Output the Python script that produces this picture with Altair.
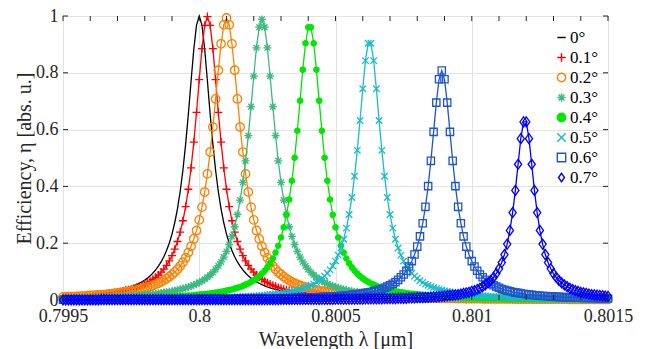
import altair as alt
import pandas as pd

# ---------------- data ----------------
wavelength_um = [
    0.79950, 0.79951, 0.79952, 0.79953, 0.79954, 0.79955, 0.79956, 0.79957, 0.79958, 0.79959,
    0.79960, 0.79961, 0.79962, 0.79963, 0.79964, 0.79965, 0.79966, 0.79967, 0.79968, 0.79969,
    0.79970, 0.79971, 0.79972, 0.79973, 0.79974, 0.79975, 0.79976, 0.79977, 0.79978, 0.79979,
    0.79980, 0.79981, 0.79982, 0.79983, 0.79984, 0.79985, 0.79986, 0.79987, 0.79988, 0.79989,
    0.79990, 0.79991, 0.79992, 0.79993, 0.79994, 0.79995, 0.79996, 0.79997, 0.79998, 0.79999,
    0.80000, 0.80001, 0.80002, 0.80003, 0.80004, 0.80005, 0.80006, 0.80007, 0.80008, 0.80009,
    0.80010, 0.80011, 0.80012, 0.80013, 0.80014, 0.80015, 0.80016, 0.80017, 0.80018, 0.80019,
    0.80020, 0.80021, 0.80022, 0.80023, 0.80024, 0.80025, 0.80026, 0.80027, 0.80028, 0.80029,
    0.80030, 0.80031, 0.80032, 0.80033, 0.80034, 0.80035, 0.80036, 0.80037, 0.80038, 0.80039,
    0.80040, 0.80041, 0.80042, 0.80043, 0.80044, 0.80045, 0.80046, 0.80047, 0.80048, 0.80049,
    0.80050, 0.80051, 0.80052, 0.80053, 0.80054, 0.80055, 0.80056, 0.80057, 0.80058, 0.80059,
    0.80060, 0.80061, 0.80062, 0.80063, 0.80064, 0.80065, 0.80066, 0.80067, 0.80068, 0.80069,
    0.80070, 0.80071, 0.80072, 0.80073, 0.80074, 0.80075, 0.80076, 0.80077, 0.80078, 0.80079,
    0.80080, 0.80081, 0.80082, 0.80083, 0.80084, 0.80085, 0.80086, 0.80087, 0.80088, 0.80089,
    0.80090, 0.80091, 0.80092, 0.80093, 0.80094, 0.80095, 0.80096, 0.80097, 0.80098, 0.80099,
    0.80100, 0.80101, 0.80102, 0.80103, 0.80104, 0.80105, 0.80106, 0.80107, 0.80108, 0.80109,
    0.80110, 0.80111, 0.80112, 0.80113, 0.80114, 0.80115, 0.80116, 0.80117, 0.80118, 0.80119,
    0.80120, 0.80121, 0.80122, 0.80123, 0.80124, 0.80125, 0.80126, 0.80127, 0.80128, 0.80129,
    0.80130, 0.80131, 0.80132, 0.80133, 0.80134, 0.80135, 0.80136, 0.80137, 0.80138, 0.80139,
    0.80140, 0.80141, 0.80142, 0.80143, 0.80144, 0.80145, 0.80146, 0.80147, 0.80148, 0.80149,
    0.80150,
]

eff_0deg = [
    0.012, 0.012, 0.013, 0.014, 0.014, 0.015, 0.015, 0.016, 0.017, 0.018,
    0.019, 0.020, 0.021, 0.022, 0.023, 0.024, 0.026, 0.027, 0.029, 0.031,
    0.033, 0.035, 0.037, 0.040, 0.043, 0.046, 0.050, 0.054, 0.059, 0.064,
    0.070, 0.077, 0.085, 0.095, 0.106, 0.119, 0.134, 0.152, 0.174, 0.200,
    0.232, 0.272, 0.321, 0.382, 0.457, 0.548, 0.654, 0.771, 0.883, 0.968,
    1.000, 0.968, 0.883, 0.771, 0.654, 0.548, 0.457, 0.382, 0.321, 0.272,
    0.232, 0.200, 0.174, 0.152, 0.134, 0.119, 0.106, 0.095, 0.085, 0.077,
    0.070, 0.064, 0.059, 0.054, 0.050, 0.046, 0.043, 0.040, 0.037, 0.035,
    0.033, 0.031, 0.029, 0.027, 0.026, 0.024, 0.023, 0.022, 0.021, 0.020,
    0.019, 0.018, 0.017, 0.016, 0.015, 0.015, 0.014, 0.014, 0.013, 0.012,
    0.012, 0.011, 0.011, 0.011, 0.010, 0.010, 0.010, 0.009, 0.009, 0.009,
    0.008, 0.008, 0.008, 0.008, 0.007, 0.007, 0.007, 0.007, 0.006, 0.006,
    0.006, 0.006, 0.006, 0.006, 0.005, 0.005, 0.005, 0.005, 0.005, 0.005,
    0.005, 0.005, 0.004, 0.004, 0.004, 0.004, 0.004, 0.004, 0.004, 0.004,
    0.004, 0.004, 0.004, 0.004, 0.003, 0.003, 0.003, 0.003, 0.003, 0.003,
    0.003, 0.003, 0.003, 0.003, 0.003, 0.003, 0.003, 0.003, 0.003, 0.003,
    0.002, 0.002, 0.002, 0.002, 0.002, 0.002, 0.002, 0.002, 0.002, 0.002,
    0.002, 0.002, 0.002, 0.002, 0.002, 0.002, 0.002, 0.002, 0.002, 0.002,
    0.002, 0.002, 0.002, 0.002, 0.002, 0.002, 0.002, 0.002, 0.002, 0.002,
    0.002, 0.002, 0.002, 0.001, 0.001, 0.001, 0.001, 0.001, 0.001, 0.001,
    0.001,
]

eff_01deg = [
    0.011, 0.011, 0.012, 0.012, 0.013, 0.013, 0.014, 0.015, 0.015, 0.016,
    0.017, 0.017, 0.018, 0.019, 0.020, 0.021, 0.022, 0.024, 0.025, 0.026,
    0.028, 0.030, 0.032, 0.034, 0.036, 0.038, 0.041, 0.044, 0.048, 0.052,
    0.056, 0.061, 0.066, 0.073, 0.080, 0.088, 0.098, 0.109, 0.122, 0.138,
    0.156, 0.179, 0.206, 0.239, 0.279, 0.329, 0.390, 0.465, 0.556, 0.661,
    0.776, 0.885, 0.967, 0.998, 0.967, 0.885, 0.776, 0.661, 0.556, 0.465,
    0.390, 0.329, 0.279, 0.239, 0.206, 0.179, 0.156, 0.138, 0.122, 0.109,
    0.098, 0.088, 0.080, 0.073, 0.066, 0.061, 0.056, 0.052, 0.048, 0.044,
    0.041, 0.038, 0.036, 0.034, 0.032, 0.030, 0.028, 0.026, 0.025, 0.024,
    0.022, 0.021, 0.020, 0.019, 0.018, 0.017, 0.017, 0.016, 0.015, 0.015,
    0.014, 0.013, 0.013, 0.012, 0.012, 0.011, 0.011, 0.011, 0.010, 0.010,
    0.010, 0.009, 0.009, 0.009, 0.008, 0.008, 0.008, 0.008, 0.007, 0.007,
    0.007, 0.007, 0.007, 0.006, 0.006, 0.006, 0.006, 0.006, 0.006, 0.005,
    0.005, 0.005, 0.005, 0.005, 0.005, 0.005, 0.005, 0.004, 0.004, 0.004,
    0.004, 0.004, 0.004, 0.004, 0.004, 0.004, 0.004, 0.004, 0.003, 0.003,
    0.003, 0.003, 0.003, 0.003, 0.003, 0.003, 0.003, 0.003, 0.003, 0.003,
    0.003, 0.003, 0.003, 0.003, 0.003, 0.002, 0.002, 0.002, 0.002, 0.002,
    0.002, 0.002, 0.002, 0.002, 0.002, 0.002, 0.002, 0.002, 0.002, 0.002,
    0.002, 0.002, 0.002, 0.002, 0.002, 0.002, 0.002, 0.002, 0.002, 0.002,
    0.002, 0.002, 0.002, 0.002, 0.002, 0.002, 0.002, 0.002, 0.001, 0.001,
    0.001,
]

eff_02deg = [
    0.011, 0.011, 0.012, 0.012, 0.012, 0.013, 0.013, 0.014, 0.014, 0.015,
    0.016, 0.016, 0.017, 0.018, 0.018, 0.019, 0.020, 0.021, 0.022, 0.023,
    0.024, 0.025, 0.027, 0.028, 0.030, 0.031, 0.033, 0.035, 0.037, 0.039,
    0.042, 0.045, 0.048, 0.051, 0.055, 0.059, 0.064, 0.069, 0.075, 0.082,
    0.090, 0.098, 0.108, 0.120, 0.133, 0.149, 0.167, 0.189, 0.215, 0.245,
    0.282, 0.327, 0.380, 0.444, 0.521, 0.609, 0.708, 0.809, 0.902, 0.969,
    0.993, 0.969, 0.902, 0.809, 0.708, 0.609, 0.521, 0.444, 0.380, 0.327,
    0.282, 0.245, 0.215, 0.189, 0.167, 0.149, 0.133, 0.120, 0.108, 0.098,
    0.090, 0.082, 0.075, 0.069, 0.064, 0.059, 0.055, 0.051, 0.048, 0.045,
    0.042, 0.039, 0.037, 0.035, 0.033, 0.031, 0.030, 0.028, 0.027, 0.025,
    0.024, 0.023, 0.022, 0.021, 0.020, 0.019, 0.018, 0.018, 0.017, 0.016,
    0.016, 0.015, 0.014, 0.014, 0.013, 0.013, 0.012, 0.012, 0.012, 0.011,
    0.011, 0.010, 0.010, 0.010, 0.010, 0.009, 0.009, 0.009, 0.008, 0.008,
    0.008, 0.008, 0.008, 0.007, 0.007, 0.007, 0.007, 0.007, 0.006, 0.006,
    0.006, 0.006, 0.006, 0.006, 0.006, 0.005, 0.005, 0.005, 0.005, 0.005,
    0.005, 0.005, 0.005, 0.005, 0.004, 0.004, 0.004, 0.004, 0.004, 0.004,
    0.004, 0.004, 0.004, 0.004, 0.004, 0.004, 0.003, 0.003, 0.003, 0.003,
    0.003, 0.003, 0.003, 0.003, 0.003, 0.003, 0.003, 0.003, 0.003, 0.003,
    0.003, 0.003, 0.003, 0.003, 0.003, 0.003, 0.002, 0.002, 0.002, 0.002,
    0.002, 0.002, 0.002, 0.002, 0.002, 0.002, 0.002, 0.002, 0.002, 0.002,
    0.002,
]

eff_03deg = [
    0.007, 0.007, 0.007, 0.007, 0.007, 0.008, 0.008, 0.008, 0.008, 0.008,
    0.009, 0.009, 0.009, 0.010, 0.010, 0.010, 0.011, 0.011, 0.011, 0.012,
    0.012, 0.013, 0.013, 0.014, 0.014, 0.015, 0.016, 0.016, 0.017, 0.018,
    0.019, 0.019, 0.020, 0.021, 0.022, 0.024, 0.025, 0.026, 0.028, 0.029,
    0.031, 0.033, 0.035, 0.037, 0.040, 0.043, 0.046, 0.049, 0.053, 0.057,
    0.062, 0.067, 0.073, 0.080, 0.088, 0.097, 0.108, 0.120, 0.134, 0.151,
    0.171, 0.195, 0.224, 0.258, 0.301, 0.352, 0.414, 0.490, 0.579, 0.681,
    0.788, 0.888, 0.961, 0.988, 0.961, 0.888, 0.788, 0.681, 0.579, 0.490,
    0.414, 0.352, 0.301, 0.258, 0.224, 0.195, 0.171, 0.151, 0.134, 0.120,
    0.108, 0.097, 0.088, 0.080, 0.073, 0.067, 0.062, 0.057, 0.053, 0.049,
    0.046, 0.043, 0.040, 0.037, 0.035, 0.033, 0.031, 0.029, 0.028, 0.026,
    0.025, 0.024, 0.022, 0.021, 0.020, 0.019, 0.019, 0.018, 0.017, 0.016,
    0.016, 0.015, 0.014, 0.014, 0.013, 0.013, 0.012, 0.012, 0.011, 0.011,
    0.011, 0.010, 0.010, 0.010, 0.009, 0.009, 0.009, 0.008, 0.008, 0.008,
    0.008, 0.008, 0.007, 0.007, 0.007, 0.007, 0.007, 0.006, 0.006, 0.006,
    0.006, 0.006, 0.006, 0.005, 0.005, 0.005, 0.005, 0.005, 0.005, 0.005,
    0.005, 0.004, 0.004, 0.004, 0.004, 0.004, 0.004, 0.004, 0.004, 0.004,
    0.004, 0.004, 0.004, 0.003, 0.003, 0.003, 0.003, 0.003, 0.003, 0.003,
    0.003, 0.003, 0.003, 0.003, 0.003, 0.003, 0.003, 0.003, 0.003, 0.003,
    0.003, 0.003, 0.002, 0.002, 0.002, 0.002, 0.002, 0.002, 0.002, 0.002,
    0.002,
]

eff_04deg = [
    0.004, 0.004, 0.004, 0.004, 0.004, 0.004, 0.004, 0.004, 0.005, 0.005,
    0.005, 0.005, 0.005, 0.005, 0.005, 0.005, 0.006, 0.006, 0.006, 0.006,
    0.006, 0.006, 0.007, 0.007, 0.007, 0.007, 0.007, 0.008, 0.008, 0.008,
    0.009, 0.009, 0.009, 0.009, 0.010, 0.010, 0.010, 0.011, 0.011, 0.012,
    0.012, 0.013, 0.013, 0.014, 0.014, 0.015, 0.016, 0.016, 0.017, 0.018,
    0.019, 0.020, 0.021, 0.022, 0.023, 0.024, 0.026, 0.027, 0.029, 0.031,
    0.033, 0.035, 0.037, 0.040, 0.043, 0.046, 0.050, 0.054, 0.058, 0.064,
    0.069, 0.076, 0.084, 0.093, 0.103, 0.115, 0.129, 0.146, 0.167, 0.191,
    0.220, 0.256, 0.300, 0.354, 0.420, 0.501, 0.596, 0.702, 0.811, 0.904,
    0.960, 0.960, 0.904, 0.811, 0.702, 0.596, 0.501, 0.420, 0.354, 0.300,
    0.256, 0.220, 0.191, 0.167, 0.146, 0.129, 0.115, 0.103, 0.093, 0.084,
    0.076, 0.069, 0.064, 0.058, 0.054, 0.050, 0.046, 0.043, 0.040, 0.037,
    0.035, 0.033, 0.031, 0.029, 0.027, 0.026, 0.024, 0.023, 0.022, 0.021,
    0.020, 0.019, 0.018, 0.017, 0.016, 0.016, 0.015, 0.014, 0.014, 0.013,
    0.013, 0.012, 0.012, 0.011, 0.011, 0.010, 0.010, 0.010, 0.009, 0.009,
    0.009, 0.009, 0.008, 0.008, 0.008, 0.007, 0.007, 0.007, 0.007, 0.007,
    0.006, 0.006, 0.006, 0.006, 0.006, 0.006, 0.005, 0.005, 0.005, 0.005,
    0.005, 0.005, 0.005, 0.005, 0.004, 0.004, 0.004, 0.004, 0.004, 0.004,
    0.004, 0.004, 0.004, 0.004, 0.004, 0.004, 0.003, 0.003, 0.003, 0.003,
    0.003, 0.003, 0.003, 0.003, 0.003, 0.003, 0.003, 0.003, 0.003, 0.003,
    0.003,
]

eff_05deg = [
    0.002, 0.002, 0.002, 0.002, 0.002, 0.002, 0.002, 0.002, 0.002, 0.002,
    0.002, 0.002, 0.003, 0.003, 0.003, 0.003, 0.003, 0.003, 0.003, 0.003,
    0.003, 0.003, 0.003, 0.003, 0.003, 0.003, 0.003, 0.003, 0.004, 0.004,
    0.004, 0.004, 0.004, 0.004, 0.004, 0.004, 0.004, 0.004, 0.005, 0.005,
    0.005, 0.005, 0.005, 0.005, 0.005, 0.006, 0.006, 0.006, 0.006, 0.006,
    0.006, 0.007, 0.007, 0.007, 0.007, 0.008, 0.008, 0.008, 0.008, 0.009,
    0.009, 0.009, 0.010, 0.010, 0.011, 0.011, 0.012, 0.012, 0.013, 0.013,
    0.014, 0.014, 0.015, 0.016, 0.017, 0.018, 0.019, 0.020, 0.021, 0.022,
    0.023, 0.025, 0.026, 0.028, 0.030, 0.032, 0.035, 0.037, 0.040, 0.044,
    0.047, 0.052, 0.056, 0.062, 0.068, 0.076, 0.084, 0.094, 0.106, 0.120,
    0.137, 0.158, 0.183, 0.214, 0.253, 0.301, 0.361, 0.436, 0.527, 0.632,
    0.744, 0.843, 0.904, 0.904, 0.843, 0.744, 0.632, 0.527, 0.436, 0.361,
    0.301, 0.253, 0.214, 0.183, 0.158, 0.137, 0.120, 0.106, 0.094, 0.084,
    0.076, 0.068, 0.062, 0.056, 0.052, 0.047, 0.044, 0.040, 0.037, 0.035,
    0.032, 0.030, 0.028, 0.026, 0.025, 0.023, 0.022, 0.021, 0.020, 0.019,
    0.018, 0.017, 0.016, 0.015, 0.014, 0.014, 0.013, 0.013, 0.012, 0.012,
    0.011, 0.011, 0.010, 0.010, 0.009, 0.009, 0.009, 0.008, 0.008, 0.008,
    0.008, 0.007, 0.007, 0.007, 0.007, 0.006, 0.006, 0.006, 0.006, 0.006,
    0.006, 0.005, 0.005, 0.005, 0.005, 0.005, 0.005, 0.005, 0.004, 0.004,
    0.004, 0.004, 0.004, 0.004, 0.004, 0.004, 0.004, 0.004, 0.003, 0.003,
    0.003,
]

eff_06deg = [
    0.001, 0.001, 0.001, 0.001, 0.001, 0.001, 0.001, 0.001, 0.001, 0.001,
    0.001, 0.001, 0.001, 0.001, 0.001, 0.001, 0.001, 0.001, 0.001, 0.001,
    0.001, 0.001, 0.001, 0.001, 0.002, 0.002, 0.002, 0.002, 0.002, 0.002,
    0.002, 0.002, 0.002, 0.002, 0.002, 0.002, 0.002, 0.002, 0.002, 0.002,
    0.002, 0.002, 0.002, 0.002, 0.002, 0.002, 0.002, 0.002, 0.002, 0.002,
    0.003, 0.003, 0.003, 0.003, 0.003, 0.003, 0.003, 0.003, 0.003, 0.003,
    0.003, 0.003, 0.003, 0.003, 0.004, 0.004, 0.004, 0.004, 0.004, 0.004,
    0.004, 0.004, 0.004, 0.005, 0.005, 0.005, 0.005, 0.005, 0.005, 0.005,
    0.006, 0.006, 0.006, 0.006, 0.007, 0.007, 0.007, 0.007, 0.008, 0.008,
    0.008, 0.009, 0.009, 0.009, 0.010, 0.010, 0.011, 0.011, 0.012, 0.012,
    0.013, 0.014, 0.014, 0.015, 0.016, 0.017, 0.018, 0.019, 0.020, 0.022,
    0.023, 0.025, 0.026, 0.028, 0.031, 0.033, 0.036, 0.039, 0.043, 0.047,
    0.052, 0.057, 0.063, 0.071, 0.080, 0.090, 0.103, 0.118, 0.137, 0.160,
    0.188, 0.224, 0.270, 0.328, 0.401, 0.490, 0.592, 0.695, 0.777, 0.808,
    0.777, 0.695, 0.592, 0.490, 0.401, 0.328, 0.270, 0.224, 0.188, 0.160,
    0.137, 0.118, 0.103, 0.090, 0.080, 0.071, 0.063, 0.057, 0.052, 0.047,
    0.043, 0.039, 0.036, 0.033, 0.031, 0.028, 0.026, 0.025, 0.023, 0.022,
    0.020, 0.019, 0.018, 0.017, 0.016, 0.015, 0.014, 0.014, 0.013, 0.012,
    0.012, 0.011, 0.011, 0.010, 0.010, 0.009, 0.009, 0.009, 0.008, 0.008,
    0.008, 0.007, 0.007, 0.007, 0.007, 0.006, 0.006, 0.006, 0.006, 0.005,
    0.005,
]

eff_07deg = [
    0.000, 0.000, 0.000, 0.000, 0.000, 0.000, 0.000, 0.000, 0.000, 0.000,
    0.000, 0.000, 0.000, 0.000, 0.001, 0.001, 0.001, 0.001, 0.001, 0.001,
    0.001, 0.001, 0.001, 0.001, 0.001, 0.001, 0.001, 0.001, 0.001, 0.001,
    0.001, 0.001, 0.001, 0.001, 0.001, 0.001, 0.001, 0.001, 0.001, 0.001,
    0.001, 0.001, 0.001, 0.001, 0.001, 0.001, 0.001, 0.001, 0.001, 0.001,
    0.001, 0.001, 0.001, 0.001, 0.001, 0.001, 0.001, 0.001, 0.001, 0.001,
    0.001, 0.001, 0.001, 0.001, 0.001, 0.001, 0.001, 0.001, 0.001, 0.001,
    0.001, 0.001, 0.001, 0.001, 0.001, 0.001, 0.001, 0.001, 0.001, 0.001,
    0.002, 0.002, 0.002, 0.002, 0.002, 0.002, 0.002, 0.002, 0.002, 0.002,
    0.002, 0.002, 0.002, 0.002, 0.002, 0.002, 0.002, 0.002, 0.002, 0.002,
    0.003, 0.003, 0.003, 0.003, 0.003, 0.003, 0.003, 0.003, 0.003, 0.003,
    0.003, 0.004, 0.004, 0.004, 0.004, 0.004, 0.004, 0.004, 0.005, 0.005,
    0.005, 0.005, 0.005, 0.006, 0.006, 0.006, 0.006, 0.007, 0.007, 0.007,
    0.008, 0.008, 0.008, 0.009, 0.009, 0.010, 0.011, 0.011, 0.012, 0.013,
    0.014, 0.015, 0.016, 0.017, 0.018, 0.019, 0.021, 0.023, 0.025, 0.027,
    0.030, 0.033, 0.037, 0.041, 0.047, 0.053, 0.060, 0.069, 0.080, 0.093,
    0.110, 0.132, 0.160, 0.197, 0.245, 0.308, 0.386, 0.478, 0.568, 0.627,
    0.627, 0.568, 0.478, 0.386, 0.308, 0.245, 0.197, 0.160, 0.132, 0.110,
    0.093, 0.080, 0.069, 0.060, 0.053, 0.047, 0.041, 0.037, 0.033, 0.030,
    0.027, 0.025, 0.023, 0.021, 0.019, 0.018, 0.017, 0.016, 0.015, 0.014,
    0.013,
]

angle_labels = ["0°", "0.1°", "0.2°", "0.3°", "0.4°", "0.5°", "0.6°", "0.7°"]
series_values = [eff_0deg, eff_01deg, eff_02deg, eff_03deg,
                 eff_04deg, eff_05deg, eff_06deg, eff_07deg]

# ---------------- styles ----------------
line_colors = ["#000000", "#FF0000", "#FF8000", "#3CBA7E",
               "#00E600", "#19BCC8", "#1F55CC", "#0000FF"]
marker_shapes = [
    "M-1,0L1,0",
    "M-1,0L1,0M0,-1L0,1",
    "circle",
    "M-1,0L1,0M0,-1L0,1M-0.71,-0.71L0.71,0.71M-0.71,0.71L0.71,-0.71",
    "circle",
    "M-1,-1L1,1M-1,1L1,-1",
    "square",
    "M0,-1L0.72,0L0,1L-0.72,0Z",
]
marker_fills = ["transparent", "transparent", "transparent", "transparent",
                "#00E600", "transparent", "transparent", "transparent"]
marker_sizes = [0, 64, 72, 64, 28, 42, 53, 100]

x_label_values = [0.7995, 0.8, 0.8005, 0.801, 0.8015]
x_minor_ticks = [0.7995, 0.7996, 0.7997, 0.7998, 0.7999, 0.8, 0.8001, 0.8002,
                 0.8003, 0.8004, 0.8005, 0.8006, 0.8007, 0.8008, 0.8009, 0.801,
                 0.8011, 0.8012, 0.8013, 0.8014, 0.8015]
y_tick_values = [0, 0.2, 0.4, 0.6, 0.8, 1]

for vals in series_values:
    assert len(vals) == len(wavelength_um), len(vals)

FONT = "Liberation Serif"
AX = "#262626"
W, H = 545, 284

x_enc = alt.X(
    "wavelength:Q",
    scale=alt.Scale(domain=[0.7995, 0.8015], nice=False, zero=False),
    axis=alt.Axis(values=x_label_values, format="~g", title="Wavelength λ [μm]",
                  ticks=False, domain=False, grid=True, labelFlush=False,
                  labelOverlap=False, labelPadding=7, titlePadding=4,
                  labelFont=FONT, titleFont=FONT, labelFontSize=18, titleFontSize=20,
                  labelColor=AX, titleColor=AX, titleFontWeight="normal",
                  gridColor="#E3E3E3", gridWidth=1),
)
y_enc = alt.Y(
    "efficiency:Q",
    scale=alt.Scale(domain=[0, 1], nice=False, zero=False),
    axis=alt.Axis(values=y_tick_values, format="~g", title="Efficiency, η [abs. u.]",
                  ticks=False, domain=False, grid=True, labelFlush=False,
                  labelOverlap=False, labelPadding=5, titlePadding=0,
                  titleX=-29, titleY=H / 2,
                  labelFont=FONT, titleFont=FONT, labelFontSize=18, titleFontSize=20,
                  labelColor=AX, titleColor=AX, titleFontWeight="normal",
                  gridColor="#E3E3E3", gridWidth=1),
)

legend = alt.Legend(title=None, orient="none", legendX=487, legendY=13,
                    labelFont=FONT, labelFontSize=17, labelColor="#000000",
                    symbolSize=70, symbolStrokeWidth=1.4, rowPadding=2,
                    padding=0, labelOffset=0, symbolOffset=3)

shape_enc = alt.Shape("angle:N", scale=alt.Scale(domain=angle_labels, range=marker_shapes), legend=legend)
stroke_enc = alt.Stroke("angle:N", scale=alt.Scale(domain=angle_labels, range=line_colors), legend=legend)
fill_enc = alt.Fill("angle:N", scale=alt.Scale(domain=angle_labels, range=marker_fills), legend=legend)

layers = []
for name, vals, col, size in zip(angle_labels, series_values, line_colors, marker_sizes):
    df = pd.DataFrame({"wavelength": wavelength_um, "efficiency": vals, "angle": name})
    layers.append(
        alt.Chart(df).mark_line(color=col, strokeWidth=1.3).encode(x=x_enc, y=y_enc)
    )
    if size > 0:
        layers.append(
            alt.Chart(df).mark_point(size=size, strokeWidth=1.3, opacity=1, filled=False)
            .encode(x=x_enc, y=y_enc, shape=shape_enc, stroke=stroke_enc, fill=fill_enc)
        )

xt = pd.DataFrame({"wavelength": x_minor_ticks})
yt = pd.DataFrame({"efficiency": y_tick_values})
tick_style = dict(color=AX, strokeWidth=1)
layers += [
    alt.Chart(xt).mark_rule(**tick_style).encode(x=x_enc, y=alt.value(0), y2=alt.value(5)),
    alt.Chart(xt).mark_rule(**tick_style).encode(x=x_enc, y=alt.value(H), y2=alt.value(H - 5)),
    alt.Chart(yt).mark_rule(**tick_style).encode(y=y_enc, x=alt.value(0), x2=alt.value(5)),
    alt.Chart(yt).mark_rule(**tick_style).encode(y=y_enc, x=alt.value(W), x2=alt.value(W - 5)),
]

chart = (
    alt.layer(*layers)
    .properties(width=W, height=H, background="white",
                padding={"left": 63, "top": 16, "right": 39, "bottom": 49},
                autosize=alt.AutoSizeParams(type="none"))
    .configure(font=FONT,
               style={"guide-label": {"font": FONT},
                      "guide-title": {"font": FONT, "fontWeight": "normal"}})
    .configure_view(stroke=AX, strokeWidth=1)
    .configure_axis(labelFont=FONT, titleFont=FONT, labelFontSize=18, titleFontSize=20,
                    labelColor=AX, titleColor=AX, titleFontWeight="normal",
                    gridColor="#E3E3E3", gridWidth=1)
    .configure_legend(labelFont=FONT, labelFontSize=17, labelColor="#000000",
                      symbolStrokeWidth=1.4, rowPadding=2, padding=0)
    .configure_text(font=FONT)
)

chart.save("out.html", embed_options={"renderer": "svg", "actions": False})
